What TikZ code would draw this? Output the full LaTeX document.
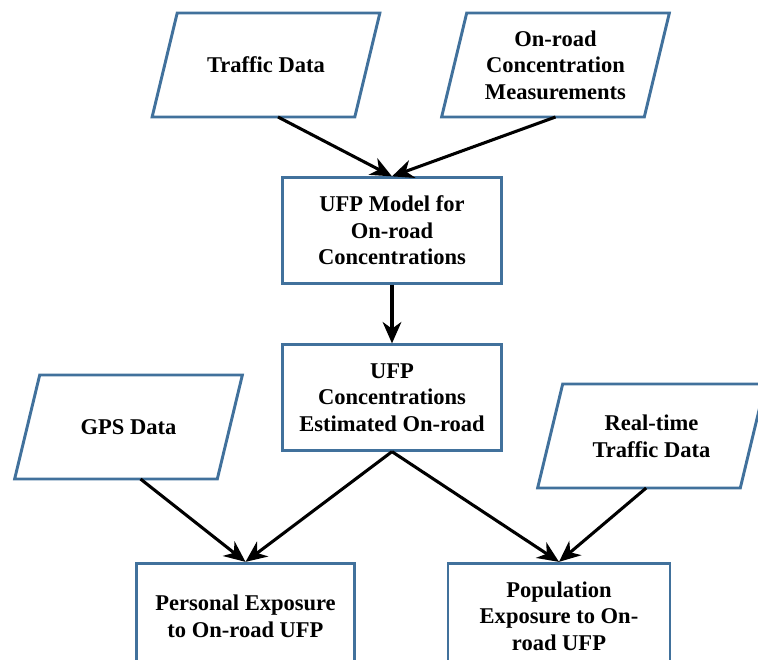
\documentclass[tikz,border=0pt]{standalone}
\usepackage{fontspec}
\setmainfont{Liberation Serif}
\usetikzlibrary{arrows.meta}
\definecolor{boxblue}{RGB}{65,113,156}

\begin{document}
\begin{tikzpicture}[x=0.75pt,y=-0.75pt,
    font=\fontsize{16.9}{20}\selectfont\bfseries,
    box/.style={draw=boxblue,line width=2.2pt,fill=white,align=center,
      minimum width=164pt,minimum height=79pt},
    data/.style={align=center,outer sep=0pt,minimum width=152pt,minimum height=78pt,
      append after command={\pgfextra{\draw[boxblue,line width=2.2pt,line join=miter]
        ([xshift=-9.4pt]\tikzlastnode.south west) -- ([xshift=9.4pt]\tikzlastnode.north west)
        -- ([xshift=9.4pt]\tikzlastnode.north east) -- ([xshift=-9.4pt]\tikzlastnode.south east)
        -- cycle;}}},
    arr/.style={line width=2.3pt,-{Stealth[length=16pt,width=14pt,inset=5pt]}}]
    \useasboundingbox (0,0) rectangle (758,660);

    \node[data] (traffic)    at (266,65)    {Traffic Data};
    \node[data] (onroad)     at (555.5,65)  {On-road\\Concentration\\Measurements};
    \node[box]  (model)      at (392,230.5) {UFP Model for\\On-road\\Concentrations};
    \node[box]  (conc)       at (392,397.5) {UFP\\Concentrations\\Estimated On-road};
    \node[data] (gps)        at (128.5,427) {GPS Data};
    \node[data] (realtime)   at (651.5,436) {Real-time\\Traffic Data};
    \node[box]  (personal)   at (245.5,616) {Personal Exposure\\to On-road UFP};
    \node[box,minimum width=166.5pt] (population) at (559,616)
      {Population\\Exposure to On-\\road UFP};

    \draw[arr] ([xshift=9pt]traffic.south) -- (model.north);
    \draw[arr] (onroad.south) -- (model.north);
    \draw[arr] (model.south) -- (conc.north);
    \draw[arr] (conc.south) -- (personal.north);
    \draw[arr] (conc.south) -- (population.north);
    \draw[arr] ([xshift=9pt]gps.south) -- (personal.north);
    \draw[arr] ([xshift=-4pt]realtime.south) -- (population.north);
\end{tikzpicture}
\end{document}
